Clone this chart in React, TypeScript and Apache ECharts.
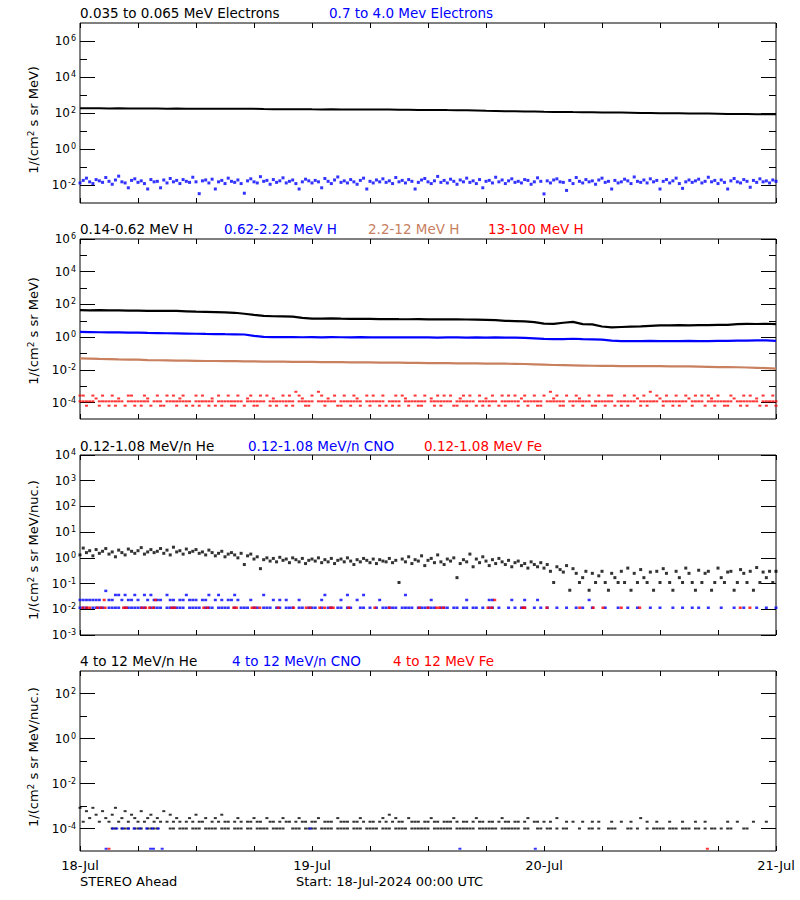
import React, { useEffect, useRef } from "react";
import * as echarts from "echarts";

// ---------------- axes / labels ----------------
const DAY_LABELS = ["18-Jul", "19-Jul", "20-Jul", "21-Jul"];
const X_MAX_HOURS = 72;
const SLOT_MINUTES = 20; // cadence of the scatter arrays
// y ranges as decade exponents, tick exponents
const Y_RANGES = [[-3, 7], [-5, 6], [-3, 4], [-5, 3]];
const Y_MAJOR = [[-2, 0, 2, 4, 6], [-4, -2, 0, 2, 4, 6], [-3, -2, -1, 0, 1, 2, 3, 4], [-4, -2, 0, 2]];
const Y_MINOR = [[-1, 1, 3, 5], [-3, -1, 1, 3, 5], [], [-3, -1, 1]];

// ---------------- Panel 1: electrons ----------------
// 0.035-0.065 MeV electrons, hourly
const E_LO = [
  182, 181, 182, 180, 181, 179, 180, 178, 177,
  175, 176, 174, 175, 173, 174, 172, 173, 171, 170,
  166, 164, 162, 160, 161, 159, 158, 159, 157, 158, 156, 157, 155, 154, 152,
  150, 148, 147, 148, 145, 143, 140,
  136, 132, 129, 126, 124, 122, 120,
  117, 115, 114, 112, 111, 110, 108, 107, 105,
  103, 101, 100, 98, 97, 96, 95, 94, 93,
  91, 89, 88, 87, 86, 85, 85,
];
// 0.7-4.0 MeV electrons, 20-min, in units of 1e-2
const E_HI_UNIT = 1e-2;
const E_HI = [
  1.3, 1.8, 2.4, 1.5, 1.2, 2.0, 1.7, 1.4, 2.6, 1.6, 1.1, 1.9, 3.1, 1.5, 1.3, 0.7, 1.8, 2.2, 1.4, 1.7, 1.2, 0.6, 2.0, 1.5,
  1.6, 0.7, 1.9, 1.3, 2.3, 1.5, 1.8, 1.2, 2.0, 1.6, 1.4, 2.7, 1.5, 0.33, 1.7, 1.9, 1.3, 2.1, 0.6, 1.5, 1.8, 1.2, 2.4, 1.6,
  1.4, 1.9, 1.2, 0.35, 1.7, 2.2, 1.5, 1.3, 2.9, 1.6, 1.8, 1.1, 2.0, 1.4, 1.7, 2.5, 1.3, 1.6, 1.9, 1.2, 0.6, 1.5, 2.1, 1.7,
  1.3, 1.8, 1.5, 0.7, 2.3, 1.6, 1.2, 1.9, 2.8, 1.4, 1.7, 1.3, 2.0, 1.5, 1.1, 1.8, 2.4, 0.6, 1.6, 1.3, 1.9, 1.5, 2.2, 1.4,
  1.7, 1.2, 2.6, 1.5, 1.8, 1.3, 2.0, 1.6, 0.6, 1.4, 1.9, 2.3, 1.5, 1.2, 1.7, 3.0, 1.4, 1.8, 1.3, 2.1, 1.6, 1.1, 1.9, 1.5,
  2.4, 1.4, 1.7, 1.2, 2.0, 0.7, 1.6, 1.8, 1.3, 2.7, 1.5, 1.9, 1.2, 1.7, 2.2, 1.4, 1.6, 1.3, 2.0, 1.8, 1.1, 1.5, 2.5, 1.6,
  0.32, 1.7, 1.3, 1.9, 2.2, 1.5, 1.4, 0.5, 1.8, 1.2, 2.6, 1.6, 1.3, 2.0, 1.5, 1.7, 1.1, 1.9, 2.4, 1.4, 1.6, 0.6, 1.8, 1.3,
  1.5, 2.1, 1.7, 1.2, 2.8, 1.6, 1.4, 1.9, 1.3, 2.2, 1.5, 1.8, 0.6, 1.6, 2.0, 1.3, 1.7, 2.4, 1.2, 0.65, 1.5, 1.9, 1.4, 1.7,
  2.1, 1.3, 1.6, 2.7, 1.5, 1.8, 1.2, 1.9, 1.4, 0.6, 1.7, 2.3, 1.5, 1.3, 2.0, 1.6, 0.75, 1.8, 1.4, 2.2, 1.5, 1.7, 1.3, 1.9,
  1.6,
];

// ---------------- Panel 2: protons ----------------
// hourly
const H_014_062 = [
  45, 44, 45, 43, 43, 42, 42, 41, 41, 40, 40, 38, 36,
  35, 34, 33, 31,
  27, 23, 20, 19, 18.5, 18, 15,
  13.5, 13.5, 14, 13.5, 13.2, 13, 13.2, 12.8,
  12.8, 12.6, 12.5, 12.6, 12.4, 12.5, 12.2, 12.1, 12, 11.8, 11.5, 11,
  10, 9.6, 9.2, 8.4,
  6.8, 6.5, 7.6, 8.6, 6.3, 6.0,
  4.5, 4.0,
  4.2, 4.4, 4.6, 4.9,
  5.2, 5.3, 5.4, 5.3, 5.4, 5.5, 5.6, 5.7,
  6.2, 6.5, 6.4, 6.6, 6.3,
];
const H_062_222 = [
  2.1, 2.05, 2.0, 1.98, 1.95, 1.9, 1.88, 1.82, 1.78, 1.74,
  1.7, 1.66, 1.62, 1.58, 1.55, 1.52, 1.5, 1.46,
  1.2,
  1.05, 1.02, 1.0, 1.01, 0.99, 1.0, 0.98, 1.0, 0.99, 0.97, 1.0, 0.98, 0.99, 0.97, 0.98, 0.96, 0.97, 0.98, 0.95, 0.97,
  0.96, 0.95, 0.97, 0.94, 0.96, 0.95, 0.93, 0.9,
  0.85, 0.78, 0.76, 0.77, 0.8, 0.76, 0.74, 0.7,
  0.62, 0.58, 0.57, 0.58, 0.59, 0.58, 0.57, 0.58, 0.59, 0.57, 0.58, 0.6, 0.59, 0.61, 0.62, 0.63, 0.64, 0.6,
];
const H_22_12 = [
  0.05, 0.049, 0.047, 0.046, 0.044, 0.043, 0.042, 0.04, 0.039, 0.038,
  0.037, 0.037, 0.036, 0.035, 0.035, 0.034, 0.034, 0.033, 0.033, 0.032, 0.032, 0.032, 0.031, 0.031,
  0.031, 0.03, 0.03, 0.03, 0.029, 0.029, 0.029, 0.028, 0.028, 0.028,
  0.027, 0.027, 0.026, 0.026, 0.026, 0.025, 0.025, 0.025, 0.0245, 0.024, 0.024, 0.0235, 0.023,
  0.022, 0.021, 0.02, 0.0195, 0.019, 0.0185, 0.018, 0.0175,
  0.0174, 0.0172, 0.017, 0.0172, 0.017, 0.0168, 0.0166, 0.0165, 0.0163, 0.016,
  0.0155, 0.015, 0.0148, 0.0145, 0.014, 0.0135, 0.013, 0.012,
];
// 13-100 MeV H: count-quantised levels, 20-min slots
const H_13_100_MAIN_LEVEL = 1.2e-4;
const H_13_100_MAIN = [
  1, 1, 1, 1, 1, 0, 1, 1, 1, 1, 1, 1, 1, 1, 0, 1, 1, 1, 1, 1, 1, 1, 0, 1,
  1, 1, 0, 1, 1, 1, 1, 1, 1, 1, 1, 0, 1, 1, 1, 1, 1, 1, 0, 1, 1, 1, 1, 1,
  1, 1, 1, 0, 1, 1, 1, 1, 1, 1, 0, 1, 1, 1, 1, 1, 1, 1, 1, 0, 1, 1, 1, 1,
  1, 0, 1, 1, 1, 1, 1, 1, 0, 1, 1, 1, 1, 1, 1, 1, 0, 1, 1, 1, 1, 1, 1, 0,
  1, 1, 1, 1, 0, 1, 1, 1, 1, 1, 1, 1, 0, 1, 1, 1, 1, 1, 1, 1, 0, 1, 1, 1,
  1, 1, 1, 0, 1, 1, 1, 1, 1, 1, 0, 1, 1, 1, 1, 1, 1, 0, 1, 1, 1, 1, 1, 1,
  0, 1, 1, 1, 1, 1, 1, 0, 1, 1, 1, 1, 1, 1, 1, 0, 1, 1, 1, 1, 1, 1, 0, 1,
  1, 1, 1, 1, 1, 0, 1, 1, 1, 1, 1, 1, 0, 1, 1, 1, 1, 1, 1, 1, 1, 0, 1, 1,
  1, 1, 0, 1, 1, 1, 1, 1, 1, 1, 1, 0, 1, 1, 1, 1, 1, 1, 1, 0, 1, 1, 1, 1,
  1,
];
const H_13_100_ALT_LEVELS = [6.5e-5, 1.8e-4, 2.7e-4, 4.6e-4];
const H_13_100_ALT = [
  3, 3, 1, 0, 3, 2, 1, 3, 0, 1, 3, 1, 2, 0, 1, 3, 3, 1, 0, 1, 3, 2, 1, 0,
  3, 1, 1, 3, 0, 3, 1, 2, 3, 1, 0, 1, 3, 1, 3, 0, 1, 2, 1, 3, 1, 0, 3, 1,
  1, 3, 0, 1, 2, 3, 1, 1, 3, 0, 3, 1, 2, 1, 0, 3, 1, 3, 1, 4, 3, 2, 1, 1,
  3, 0, 4, 3, 1, 2, 0, 3, 1, 1, 3, 0, 1, 3, 2, 1, 0, 3, 1, 3, 0, 1, 3, 1,
  0, 1, 3, 1, 3, 2, 1, 0, 3, 1, 1, 3, 0, 2, 1, 3, 1, 3, 0, 3, 1, 1, 2, 3,
  1, 3, 0, 1, 3, 1, 2, 1, 3, 0, 1, 3, 1, 3, 0, 3, 1, 2, 3, 1, 0, 3, 1, 1,
  3, 0, 4, 2, 3, 1, 1, 3, 0, 1, 3, 2, 1, 0, 3, 1, 1, 3, 0, 1, 3, 3, 1, 0,
  1, 3, 1, 0, 3, 2, 1, 3, 1, 4, 0, 3, 2, 1, 3, 0, 1, 3, 1, 0, 3, 2, 1, 3,
  0, 3, 1, 3, 2, 1, 3, 0, 1, 1, 3, 2, 0, 1, 3, 1, 3, 0, 2, 1, 3, 1, 0, 3,
  1,
];

// ---------------- Panel 3: 0.12-1.08 MeV/n ions ----------------
const HE_LOW = [
  1.3, 2.4, 1.6, 1.9, 1.2, 2.1, 1.5, 1.8, 2.3, 1.4, 1.7, 1.1, 2.0, 1.6, 1.3, 2.2, 1.8, 1.5, 1.9, 2.5, 1.4, 1.7, 2.1, 1.6,
  1.8, 2.3, 1.5, 2.0, 1.3, 2.6, 1.7, 1.9, 1.4, 2.2, 1.6, 1.8, 2.1, 1.5, 1.7, 1.3, 2.0, 1.6, 1.2, 1.5, 1.8, 1.1, 1.4, 1.6,
  1.3, 1.0, 1.5, 0.55, 1.2, 1.4, 0.9, 1.1, 0.38, 0.85, 1.0, 0.75, 0.95, 0.7, 1.05, 0.8, 0.9, 0.65, 1.0, 0.85, 0.7, 0.95, 0.6, 0.8,
  0.9, 0.75, 1.0, 0.65, 0.85, 0.7, 0.95, 0.6, 0.8, 0.9, 0.7, 1.0, 0.75, 0.55, 0.85, 0.7, 0.95, 0.8, 0.65, 0.9, 0.6, 0.85, 0.75, 0.7,
  0.95, 0.65, 0.8, 0.11, 0.9, 0.7, 1.1, 0.6, 0.85, 0.75, 1.2, 0.5, 0.8, 0.95, 0.65, 1.3, 0.7, 0.55, 0.9, 0.75, 1.0, 0.17, 0.6, 0.85,
  0.7, 1.4, 0.45, 0.9, 0.65, 1.1, 0.75, 0.5, 0.85, 0.6, 0.95, 0.7, 0.55, 0.8, 0.45, 0.65, 0.75, 0.5, 0.6, 0.4, 0.7, 0.55, 0.45, 0.65,
  0.4, 0.55, 0.3, 0.11, 0.45, 0.35, 0.28, 0.5, 0.055, 0.38, 0.25, 0.11, 0.17, 0.3, 0.055, 0.25, 0.11, 0.2, 0.3, 0.11, 0.055, 0.25, 0.17, 0.11,
  0.3, 0.11, 0.4, 0.055, 0.25, 0.11, 0.35, 0.17, 0.11, 0.28, 0.055, 0.3, 0.11, 0.38, 0.25, 0.11, 0.055, 0.3, 0.17, 0.11, 0.4, 0.25, 0.11, 0.055,
  0.33, 0.11, 0.25, 0.3, 0.055, 0.11, 0.4, 0.17, 0.11, 0.28, 0.3, 0.055, 0.11, 0.35, 0.25, 0.11, 0.3, 0.055, 0.42, 0.11, 0.28, 0.17, 0.3, 0.11,
  0.3,
];
const CNO_LOW_BASE_LEVEL = 1.15e-2;
const CNO_LOW_BASE = [
  1, 1, 1, 0, 1, 1, 1, 1, 0, 1, 1, 1, 1, 0, 1, 1, 1, 1, 1, 1, 1, 0, 1, 1,
  1, 1, 0, 1, 1, 1, 1, 1, 1, 0, 1, 1, 1, 1, 0, 1, 1, 1, 0, 1, 1, 1, 1, 0,
  1, 0, 1, 1, 1, 0, 1, 1, 0, 1, 1, 1, 0, 1, 1, 0, 1, 1, 1, 0, 1, 1, 0, 1,
  1, 1, 0, 1, 0, 1, 1, 0, 1, 1, 0, 1, 1, 0, 0, 1, 1, 0, 1, 0, 1, 0, 1, 1,
  1, 1, 1, 0, 1, 1, 1, 1, 0, 1, 1, 1, 1, 1, 1, 0, 1, 1, 1, 0, 1, 1, 0, 1,
  1, 0, 1, 1, 0, 1, 0, 1, 1, 0, 1, 0, 0, 1, 0, 1, 0, 1, 1, 0, 0, 1, 0, 1,
  0, 1, 0, 0, 1, 0, 0, 1, 0, 0, 1, 0, 1, 0, 0, 1, 0, 0, 0, 1, 0, 0, 0, 1,
  0, 0, 1, 0, 0, 1, 0, 0, 0, 1, 0, 0, 1, 0, 0, 0, 1, 0, 0, 1, 0, 0, 1, 0,
  1, 0, 0, 1, 0, 0, 0, 1, 0, 0, 0, 1, 0, 0, 1, 0, 0, 0, 1, 0, 0, 1, 0, 0,
  1,
];
const CNO_LOW_UP_LEVELS = [2.3e-2, 3.6e-2, 5.2e-2];
const CNO_LOW_UP = [
  1, 1, 1, 1, 1, 1, 1, 0, 3, 1, 1, 2, 2, 1, 2, 1, 1, 2, 1, 0, 2, 1, 2, 1,
  1, 1, 0, 2, 1, 1, 0, 1, 1, 2, 1, 1, 1, 0, 1, 1, 2, 0, 1, 2, 1, 0, 1, 1,
  2, 1, 0, 0, 0, 1, 0, 0, 0, 2, 0, 0, 1, 0, 1, 0, 1, 0, 0, 0, 1, 0, 0, 0,
  0, 0, 0, 1, 2, 0, 0, 0, 0, 1, 0, 2, 0, 0, 1, 0, 2, 0, 0, 0, 0, 1, 0, 0,
  0, 0, 0, 0, 0, 2, 0, 0, 0, 0, 0, 0, 0, 1, 0, 0, 0, 0, 0, 0, 0, 0, 0, 0,
  1, 0, 0, 0, 0, 0, 0, 1, 1, 0, 0, 0, 0, 0, 1, 0, 0, 0, 1, 0, 0, 0, 1, 0,
  0, 0, 0, 0, 0, 0, 0, 0, 0, 0, 0, 0, 0, 0, 1, 0, 0, 0, 0, 0, 0, 0, 0, 0,
  0, 0, 0, 0, 0, 0, 0, 0, 0, 0, 0, 0, 0, 0, 0, 0, 0, 0, 0, 0, 0, 0, 0, 0,
  0, 0, 0, 0, 0, 0, 0, 0, 0, 0, 0, 0, 0, 0, 0, 0, 0, 0, 0, 0, 0, 0, 0, 0,
  0,
];
const FE_LOW_BASE_LEVEL = 1.15e-2;
const FE_LOW_BASE_HOURS = [
  0.3, 0.7, 1.0, 1.8, 2.2, 2.6, 4.5, 4.8, 6.4, 6.8, 7.2, 7.6, 9.5, 9.8, 12.8, 13.2, 15.9, 16.2, 17.8, 18.1,
  18.6, 20.5, 22.1, 23.4, 23.8, 24.8, 25.3, 25.9, 26.2, 27.8, 30.5, 32.0, 35.1, 36.0, 36.9, 37.2, 37.6, 42.2,
  42.6, 45.8, 46.0, 48.3, 51.7, 53.1, 54.1, 56.0, 57.9, 68.3, 69.3,
];
const FE_LOW_UP_LEVEL = 2.3e-2;
const FE_LOW_UP_HOURS = [2.5, 7.8, 42.9];

// ---------------- Panel 4: 4-12 MeV/n ions ----------------
const HE_HIGH_BASE_LEVEL = 1.0e-4;
const HE_HIGH_BASE = [
  0, 0, 0, 0, 0, 0, 0, 0, 0, 0, 1, 1, 0, 1, 1, 1, 0, 1, 1, 1, 0, 1, 1, 1,
  1, 0, 0, 0, 1, 1, 0, 1, 1, 1, 0, 1, 1, 1, 0, 1, 1, 1, 1, 0, 1, 1, 1, 0,
  1, 1, 1, 0, 1, 1, 0, 1, 1, 1, 1, 0, 1, 1, 1, 1, 0, 0, 1, 1, 1, 0, 1, 1,
  1, 1, 0, 1, 1, 1, 1, 0, 1, 1, 1, 1, 0, 1, 1, 1, 0, 1, 1, 1, 1, 0, 1, 1,
  1, 0, 1, 1, 1, 1, 0, 1, 1, 1, 1, 1, 1, 0, 1, 1, 1, 1, 1, 1, 0, 1, 1, 1,
  1, 1, 1, 0, 1, 1, 1, 1, 1, 1, 0, 1, 1, 1, 1, 1, 1, 0, 1, 1, 0, 0, 1, 1,
  0, 1, 1, 0, 1, 0, 1, 1, 0, 0, 0, 1, 0, 0, 1, 1, 0, 1, 0, 0, 1, 1, 1, 0,
  0, 0, 1, 1, 0, 1, 0, 0, 1, 0, 1, 1, 1, 1, 0, 1, 1, 1, 0, 1, 1, 1, 0, 1,
  1, 0, 1, 0, 1, 1, 0, 1, 0, 1, 1, 0, 0, 0, 1, 1, 0, 0, 0, 0, 0, 0, 0, 0,
  0,
];
const HE_HIGH_UP_LEVELS = [2.0e-4, 2.9e-4, 4.1e-4, 5.9e-4, 8.3e-4];
const HE_HIGH_UP = [
  5, 1, 4, 2, 5, 3, 1, 4, 2, 1, 3, 5, 1, 2, 4, 1, 3, 2, 1, 4, 1, 2, 3, 1,
  2, 1, 4, 1, 3, 1, 2, 1, 0, 1, 2, 1, 3, 1, 1, 2, 0, 1, 2, 1, 3, 1, 1, 0,
  1, 2, 1, 0, 1, 1, 2, 1, 1, 0, 2, 1, 1, 0, 1, 2, 1, 1, 0, 1, 2, 1, 1, 0,
  1, 1, 2, 0, 1, 1, 1, 0, 2, 1, 1, 1, 0, 1, 1, 2, 1, 0, 1, 1, 0, 1, 2, 1,
  3, 1, 2, 1, 1, 0, 2, 1, 1, 1, 0, 1, 1, 2, 1, 1, 0, 1, 1, 1, 2, 1, 0, 1,
  1, 0, 1, 2, 1, 1, 0, 1, 1, 0, 1, 2, 1, 1, 0, 1, 1, 0, 1, 2, 0, 1, 1, 0,
  1, 0, 1, 0, 2, 0, 0, 1, 0, 1, 0, 0, 1, 0, 0, 1, 0, 1, 0, 0, 0, 1, 0, 0,
  1, 0, 0, 1, 0, 0, 2, 0, 1, 0, 0, 1, 0, 0, 0, 1, 0, 0, 0, 1, 0, 0, 0, 1,
  0, 0, 1, 0, 0, 0, 0, 0, 0, 1, 0, 0, 1, 0, 0, 0, 0, 1, 0, 0, 0, 1, 0, 0,
  0,
];
const CNO_HIGH_BASE_LEVEL = 1.0e-4;
const CNO_HIGH_BASE_HOURS = [3.4, 3.8, 4.4, 5.0, 5.6, 6.2, 6.9, 7.5, 8.1, 23.8];
const CNO_HIGH_FLOOR_LEVEL = 1.26e-5;
const CNO_HIGH_FLOOR_HOURS = [2.7, 7.3, 7.6, 8.5, 39.3, 47.1];
const FE_HIGH_FLOOR_LEVEL = 1.26e-5;
const FE_HIGH_FLOOR_HOURS = [3.0, 64.9];

// ---------------- texts ----------------
const BLACK = "#000000";
const BLUE = "#0000ff";
const BROWN = "#c8805f";
const RED = "#ff0000";
const PANEL_TITLES = [
  [["0.035 to 0.065 MeV Electrons", BLACK, 80], ["0.7 to 4.0 Mev Electrons", BLUE, 329]],
  [["0.14-0.62 MeV H", BLACK, 80], ["0.62-2.22 MeV H", BLUE, 224], ["2.2-12 MeV H", BROWN, 368], ["13-100 MeV H", RED, 488]],
  [["0.12-1.08 MeV/n He", BLACK, 80], ["0.12-1.08 MeV/n CNO", BLUE, 248], ["0.12-1.08 MeV Fe", RED, 424]],
  [["4 to 12 MeV/n He", BLACK, 80], ["4 to 12 MeV/n CNO", BLUE, 232], ["4 to 12 MeV Fe", RED, 393]],
] as [string, string, number][][];
const Y_NAMES = ["1/(cm{s|2} s sr MeV)", "1/(cm{s|2} s sr MeV)", "1/(cm{s|2} s sr MeV/nuc.)", "1/(cm{s|2} s sr MeV/nuc.)"];
const FOOT_LEFT = "STEREO Ahead";
const FOOT_START = "Start: 18-Jul-2024 00:00 UTC";

// ---------------- layout ----------------
const PLOT_LEFT = 80;
const PLOT_W = 696;
const PLOT_H = 180;
const PANEL_TOPS = [23, 239, 455, 671];
const TITLE_Y = [13, 229, 446, 661];
const YNAME_Y = [120, 331, 550, 757];
const FONT = '"DejaVu Sans", sans-serif';

const slotHour = (i: number) => (i * SLOT_MINUTES) / 60;
const hourly = (vals: number[]) => vals.map((v, i) => [i, v]);
const slots = (vals: number[], unit = 1) => vals.map((v, i) => [slotHour(i), v * unit]);
const occupied = (flags: number[], level: number) =>
  flags.flatMap((f, i) => (f ? [[slotHour(i), level]] : []));
const leveled = (idx: number[], levels: number[]) =>
  idx.flatMap((k, i) => (k ? [[slotHour(i), levels[k - 1]]] : []));
const atHours = (hours: number[], level: number) => hours.map((h) => [h, level]);

function buildOption() {
  const grids: any[] = [];
  const xAxes: any[] = [];
  const yAxes: any[] = [];
  const dataY: number[] = [];
  const dataX: number[] = [];
  const tickStyle = { color: "#000", width: 1 };

  PANEL_TOPS.forEach((top, p) => {
    grids.push({
      left: PLOT_LEFT, top, width: PLOT_W, height: PLOT_H, show: true,
      borderColor: "#000", borderWidth: 1, backgroundColor: "transparent",
    });
    dataX.push(xAxes.length);
    for (const pos of ["bottom", "top"]) {
      xAxes.push({
        type: "value", gridIndex: p, position: pos, min: 0, max: X_MAX_HOURS, interval: 6,
        axisLine: { show: false, onZero: false },
        splitLine: { show: false },
        axisTick: { show: true, inside: true, length: 5, lineStyle: tickStyle },
        axisLabel:
          p === 3 && pos === "bottom"
            ? {
                show: true, margin: 8, color: "#000", fontFamily: FONT, fontSize: 13,
                showMinLabel: true, showMaxLabel: true,
                formatter: (v: number) => (v % 24 === 0 ? DAY_LABELS[v / 24] : ""),
              }
            : { show: false },
      });
    }
    const [lo, hi] = Y_RANGES[p];
    dataY.push(yAxes.length);
    yAxes.push({
      type: "log", logBase: 10, gridIndex: p, position: "left", min: Math.pow(10, lo), max: Math.pow(10, hi),
      show: false, axisLine: { onZero: false }, splitLine: { show: false },
    });
    for (const side of ["left", "right"]) {
      yAxes.push({
        type: "value", gridIndex: p, position: side, min: lo, max: hi,
        axisLine: { show: false, onZero: false }, splitLine: { show: false },
        axisTick: { show: true, inside: true, length: 15, customValues: Y_MAJOR[p], lineStyle: tickStyle },
        axisLabel:
          side === "left"
            ? {
                show: true, customValues: Y_MAJOR[p], margin: 4, color: "#000",
                fontFamily: FONT, fontSize: 12, showMinLabel: true, showMaxLabel: true,
                formatter: (v: number) => `10{s|${Math.round(v)}}`,
                rich: { s: { fontSize: 8, fontFamily: FONT, color: "#000", verticalAlign: "top", padding: [0, 0, 5, 1] } },
              }
            : { show: false },
      });
      if (Y_MINOR[p].length) {
        yAxes.push({
          type: "value", gridIndex: p, position: side, min: lo, max: hi,
          axisLine: { show: false, onZero: false }, splitLine: { show: false },
          axisTick: { show: true, inside: true, length: 7, customValues: Y_MINOR[p], lineStyle: tickStyle },
          axisLabel: { show: false },
        });
      }
    }
  });

  const scatter = (p: number, data: number[][], color: string, size: number[] = [3, 2]) => ({
    type: "scatter", xAxisIndex: dataX[p], yAxisIndex: dataY[p], data, symbol: "rect",
    symbolSize: size, itemStyle: { color }, silent: true, clip: true,
  });
  const line = (p: number, data: number[][], color: string, width: number) => ({
    type: "line", xAxisIndex: dataX[p], yAxisIndex: dataY[p], data, showSymbol: false,
    lineStyle: { color, width }, itemStyle: { color }, silent: true,
  });

  const series = [
    line(0, hourly(E_LO), BLACK, 2),
    scatter(0, slots(E_HI, E_HI_UNIT), BLUE, [3, 3]),
    line(1, hourly(H_014_062), BLACK, 2.2),
    line(1, hourly(H_062_222), BLUE, 2.2),
    line(1, hourly(H_22_12), BROWN, 2.2),
    scatter(1, occupied(H_13_100_MAIN, H_13_100_MAIN_LEVEL), RED),
    scatter(1, leveled(H_13_100_ALT, H_13_100_ALT_LEVELS), RED),
    scatter(2, slots(HE_LOW), BLACK, [3, 3]),
    scatter(2, occupied(CNO_LOW_BASE, CNO_LOW_BASE_LEVEL), BLUE, [3, 2.5]),
    scatter(2, leveled(CNO_LOW_UP, CNO_LOW_UP_LEVELS), BLUE, [3, 2.5]),
    scatter(2, atHours(FE_LOW_BASE_HOURS, FE_LOW_BASE_LEVEL), RED, [3, 2.5]),
    scatter(2, atHours(FE_LOW_UP_HOURS, FE_LOW_UP_LEVEL), RED, [3, 2.5]),
    scatter(3, occupied(HE_HIGH_BASE, HE_HIGH_BASE_LEVEL), BLACK),
    scatter(3, leveled(HE_HIGH_UP, HE_HIGH_UP_LEVELS), BLACK),
    scatter(3, atHours(CNO_HIGH_BASE_HOURS, CNO_HIGH_BASE_LEVEL), BLUE),
    scatter(3, atHours(CNO_HIGH_FLOOR_HOURS, CNO_HIGH_FLOOR_LEVEL), BLUE),
    scatter(3, atHours(FE_HIGH_FLOOR_HOURS, FE_HIGH_FLOOR_LEVEL), RED),
  ];

  const graphics: any[] = [];
  PANEL_TITLES.forEach((parts, p) => {
    parts.forEach(([text, color, x]) => {
      graphics.push({
        type: "text", x, y: TITLE_Y[p], silent: true,
        style: {
          text, fill: color, font: `13.5px ${FONT}`,
          textAlign: "left", textVerticalAlign: "middle", align: "left", verticalAlign: "middle",
        },
      });
    });
  });
  Y_NAMES.forEach((name, p) => {
    graphics.push({
      type: "text", x: 33, y: YNAME_Y[p], rotation: Math.PI / 2, silent: true,
      style: {
        text: name, fill: "#000", font: `13px ${FONT}`,
        textAlign: "center", textVerticalAlign: "middle", align: "center", verticalAlign: "middle",
        rich: { s: { fontSize: 9, fontFamily: FONT, fill: "#000", verticalAlign: "top", padding: [0, 0, 5, 0] } },
      },
    });
  });
  graphics.push({
    type: "text", x: 80, y: 881, silent: true,
    style: { text: FOOT_LEFT, fill: "#000", font: `13px ${FONT}`, textAlign: "left", textVerticalAlign: "middle", align: "left", verticalAlign: "middle" },
  });
  graphics.push({
    type: "text", x: 296, y: 881, silent: true,
    style: { text: FOOT_START, fill: "#000", font: `13px ${FONT}`, textAlign: "left", textVerticalAlign: "middle", align: "left", verticalAlign: "middle" },
  });

  return {
    animation: false,
    backgroundColor: "#ffffff",
    grid: grids,
    xAxis: xAxes,
    yAxis: yAxes,
    series,
    graphic: { elements: graphics },
  };
}

export default function App() {
  const ref = useRef<HTMLDivElement>(null);
  useEffect(() => {
    document.body.style.margin = "0";
    const chart = echarts.init(ref.current!, undefined, { renderer: "svg", width: 800, height: 900 });
    chart.setOption(buildOption() as any);
    return () => chart.dispose();
  }, []);
  return (
    <div
      ref={ref}
      style={{ position: "absolute", left: 0, top: 0, width: 800, height: 900, background: "#fff" }}
    />
  );
}
